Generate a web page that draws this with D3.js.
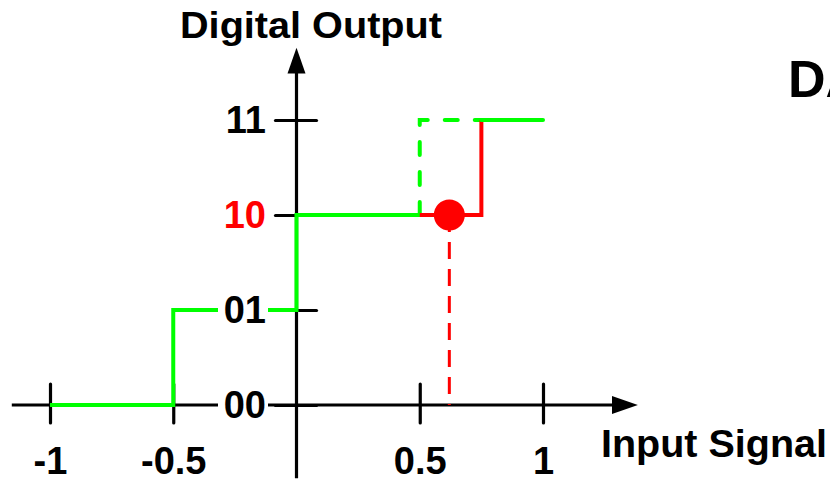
<!DOCTYPE html>
<html>
<head>
<meta charset="utf-8">
<script src="https://cdn.jsdelivr.net/npm/d3@7"></script>
<style>
  body { margin: 0; background: #fff; }
  text { font-family: "Liberation Sans", Arial, sans-serif; font-weight: bold; }
</style>
</head>
<body>
<div id="chart"></div>
<script>
// tick labels
var xTicks = [-1, -0.5, 0.5, 1];
var codes = ["00", "01", "10", "11"];

// ideal transfer (green), points as input value / output level
var idealX = [-1, -0.5, -0.5, 0, 0, 0.5];
var idealLevel = [0, 0, 1, 1, 2, 2];
var idealDashX = [0.5, 0.5, 0.75];
var idealDashLevel = [2, 3, 3];
var idealTailX = [0.75, 1];
var idealTailLevel = [3, 3];

// actual transfer (red)
var realX = [0.5, 0.75, 0.75];
var realLevel = [2, 2, 3];

// sampled point
var sampleX = 0.62;
var sampleLevel = 2;

var width = 830, height = 482;

var svg = d3.select('#chart').append('svg')
  .attr('width', width)
  .attr('height', height);

var x = d3.scaleLinear().domain([-1, 1]).range([50, 543]);
var y = d3.scaleLinear().domain([0, 3]).range([405, 120]);

var green = '#00ff00', red = '#ff0000';

function pts(xs, ls) {
  return xs.map(function(v, i) { return [x(v), y(ls[i])]; });
}
var line = d3.line();

// x axis line + arrow
svg.append('line')
  .attr('x1', x(-1.155)).attr('x2', x(1.28))
  .attr('y1', y(0)).attr('y2', y(0))
  .attr('stroke', '#000').attr('stroke-width', 3.2);
svg.append('path')
  .attr('d', 'M' + x(1.385) + ',' + y(0) + 'L' + x(1.28) + ',' + (y(0) - 9) + 'L' + x(1.28) + ',' + (y(0) + 9) + 'Z')
  .attr('fill', '#000');

var xAxis = svg.append('g')
  .attr('transform', 'translate(0,' + y(0) + ')')
  .call(d3.axisBottom(x).tickValues(xTicks).tickSize(18).tickFormat(function(d) { return String(d); }));
xAxis.select('.domain').remove();
xAxis.selectAll('.tick line')
  .attr('y1', -21)
  .attr('stroke', '#000').attr('stroke-width', 3.2).attr('stroke-linecap', 'round');
xAxis.selectAll('.tick text')
  .attr('y', 69).attr('dy', null)
  .attr('fill', '#000')
  .style('font-size', '38px');

// y axis line + arrow
svg.append('line')
  .attr('x1', x(0)).attr('x2', x(0))
  .attr('y1', y(-0.77)).attr('y2', y(3.5))
  .attr('stroke', '#000').attr('stroke-width', 3.2);
svg.append('path')
  .attr('d', 'M' + x(0) + ',' + y(3.76) + 'L' + (x(0) - 9) + ',' + y(3.49) + 'L' + (x(0) + 9) + ',' + y(3.49) + 'Z')
  .attr('fill', '#000');

var yAxis = svg.append('g')
  .attr('transform', 'translate(' + x(0) + ',0)')
  .call(d3.axisLeft(y).tickValues([0, 1, 2, 3]).tickSize(21).tickFormat(function(i) { return codes[i]; }));
yAxis.select('.domain').remove();
yAxis.selectAll('.tick line')
  .attr('x2', 20)
  .attr('x1', -21)
  .attr('stroke', '#000').attr('stroke-width', 3.2).attr('stroke-linecap', 'round');
yAxis.selectAll('.tick text').remove();

// green ideal steps
svg.append('path')
  .attr('d', line(pts(idealX, idealLevel)))
  .attr('fill', 'none').attr('stroke', green).attr('stroke-width', 4);
svg.append('path')
  .attr('d', line(pts(idealDashX, idealDashLevel)))
  .attr('fill', 'none').attr('stroke', green).attr('stroke-width', 4)
  .attr('stroke-dasharray', '13,17').attr('stroke-linecap', 'round');

// red actual step
svg.append('path')
  .attr('d', line(pts(realX, realLevel)))
  .attr('fill', 'none').attr('stroke', red).attr('stroke-width', 4);
svg.append('path')
  .attr('d', line(pts(idealTailX, idealTailLevel)))
  .attr('fill', 'none').attr('stroke', green).attr('stroke-width', 4)
  .attr('stroke-linecap', 'round');

// y tick labels with white knockout
var labels = svg.append('g').selectAll('g')
  .data(codes)
  .enter().append('g')
  .attr('transform', function(d, i) { return 'translate(0,' + y(i) + ')'; });
labels.append('rect')
  .attr('x', 218).attr('y', -16).attr('width', 50).attr('height', 32)
  .attr('fill', '#fff');
labels.append('text')
  .attr('x', 266).attr('y', 13)
  .attr('text-anchor', 'end')
  .style('font-size', '38px')
  .attr('fill', function(d, i) { return i === sampleLevel ? red : '#000'; })
  .text(function(d) { return d; });

// sample projection
svg.append('line')
  .attr('x1', x(sampleX)).attr('x2', x(sampleX))
  .attr('y1', y(sampleLevel)).attr('y2', y(0))
  .attr('stroke', red).attr('stroke-width', 3)
  .attr('stroke-dasharray', '17,10');
svg.append('circle')
  .attr('cx', x(sampleX)).attr('cy', y(sampleLevel))
  .attr('r', 15.5)
  .attr('fill', red);

// titles
svg.append('text')
  .attr('x', 180).attr('y', 38)
  .attr('textLength', 262).attr('lengthAdjust', 'spacingAndGlyphs')
  .style('font-size', '36px')
  .text('Digital Output');
svg.append('text')
  .attr('x', 601).attr('y', 457)
  .attr('textLength', 226).attr('lengthAdjust', 'spacingAndGlyphs')
  .style('font-size', '38px')
  .text('Input Signal');
svg.append('text')
  .attr('x', 788).attr('y', 97)
  .style('font-size', '52px')
  .text('DAC');
</script>
</body>
</html>
